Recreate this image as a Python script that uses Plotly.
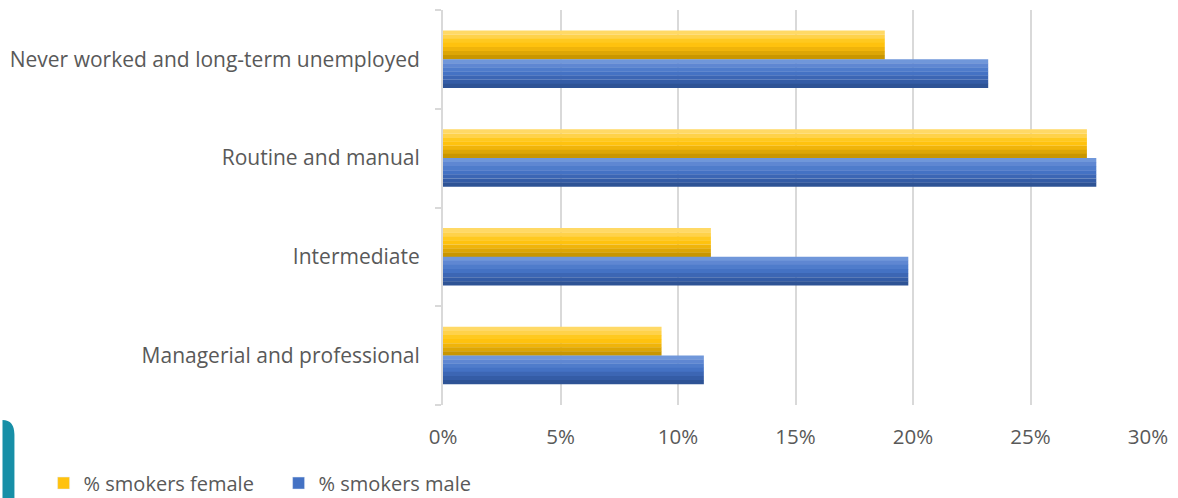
import plotly.graph_objects as go

categories = ["Managerial and professional", "Intermediate", "Routine and manual",
              "Never worked and long-term unemployed"]
female = [0.093, 0.114, 0.274, 0.188]
male = [0.111, 0.198, 0.278, 0.232]
tick_vals = [0, 0.05, 0.10, 0.15, 0.20, 0.25, 0.30]
tick_text = ["0%", "5%", "10%", "15%", "20%", "25%", "30%"]

female_shades = ["#FFD966", "#FFD24A", "#FFC91F", "#FFC20E", "#F0B40A", "#DDA606", "#C99600"]
male_shades = ["#7097DA", "#5F87D2", "#4F7CCB", "#4472C4", "#3C66B4", "#345CA6", "#2E5395"]

BW = 0.29
FONT = "Open Sans"
TXT = "#595959"

fig = go.Figure()

def add_series(vals, shades, top_offset, name, legend_color):
    n = len(shades)
    h = BW / n
    for i, c in enumerate(shades):
        fig.add_trace(go.Bar(
            y=categories, x=vals, orientation="h",
            width=h + 0.002, offset=top_offset - (i + 1) * h,
            marker=dict(color=c, line=dict(width=0)),
            showlegend=False, hoverinfo="skip", legendgroup=name,
        ))
    fig.add_trace(go.Bar(
        y=[categories[0]], x=[None], orientation="h", name=name,
        marker=dict(color=legend_color), showlegend=True, legendgroup=name,
    ))

add_series(female, female_shades, BW, "% smokers female", "#FFC20E")
add_series(male, male_shades, 0, "% smokers male", "#4472C4")

x0 = -443 / 709
x1 = (12 - 443) / 709
yb = -93 / 395
yt = -15 / 395
yc = -30 / 395

fig.update_layout(
    width=1178, height=498,
    margin=dict(l=443, r=26, t=10, b=93),
    barmode="overlay",
    plot_bgcolor="white", paper_bgcolor="white",
    font=dict(family=FONT, size=20.5, color=TXT),
    legend=dict(orientation="h", xref="container", yref="container",
                x=0.037, y=0.03, xanchor="left", yanchor="middle",
                font=dict(size=20, color=TXT), entrywidth=190, entrywidthmode="pixels",
                traceorder="normal"),
    shapes=[dict(type="path", xref="paper", yref="paper",
                 path=f"M {x0} {yb} L {x0} {yt} Q {x1} {yt} {x1} {yc} L {x1} {yb} Z",
                 fillcolor="#178FA7", line=dict(width=0), layer="above")],
)

fig.update_xaxes(
    range=[0, 0.30], tickvals=tick_vals, ticktext=tick_text,
    showgrid=True, gridcolor="#D9D9D9", gridwidth=2,
    zeroline=False, showline=False, ticks="", ticklabelstandoff=17,
    tickfont=dict(size=20.5, color=TXT),
)
fig.update_yaxes(
    type="category", categoryorder="array", categoryarray=categories,
    showline=True, linecolor="#D9D9D9", linewidth=2,
    ticks="outside", tickson="boundaries", ticklen=6, tickcolor="#D9D9D9", tickwidth=2,
    ticklabelstandoff=17, tickfont=dict(size=21, color=TXT),
    showgrid=False,
)

fig.write_html("out.html")
